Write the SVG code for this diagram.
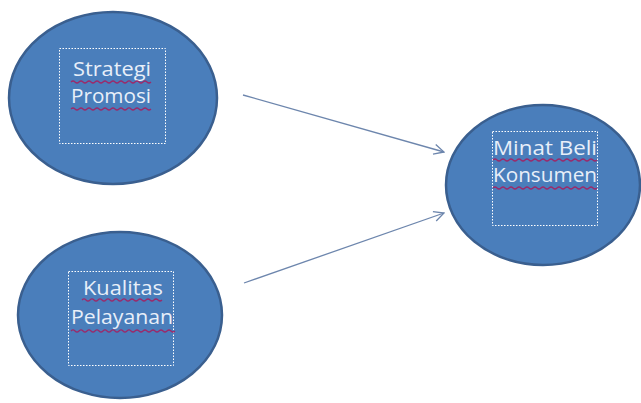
<svg xmlns="http://www.w3.org/2000/svg" width="641" height="403" viewBox="0 0 641 403">
<defs>
<style>
.node{fill:#4a7ebb;stroke:#3a5f8f;stroke-width:2.5}
.box{fill:none;stroke:#ffffff;stroke-width:1;stroke-dasharray:1.5 1.5}
.lbl{font-family:"Open Sans","Liberation Sans",sans-serif;font-size:20px;fill:#e8eff9}
.sq{fill:none;stroke:#9b2a6a;stroke-width:1.2}
.conn{stroke:#6d86ad;stroke-width:1.3;fill:none}
</style>
<marker id="arr" viewBox="0 0 12 12" refX="11" refY="6" markerWidth="12" markerHeight="12" markerUnits="userSpaceOnUse" orient="auto">
<path d="M1,1 L11,6 L1,11" fill="none" stroke="#6d86ad" stroke-width="1.3"/>
</marker>
</defs>
<rect width="641" height="403" fill="#ffffff"/>
<g id="connectors">
<line class="conn" x1="243" y1="95" x2="444" y2="152" marker-end="url(#arr)"/>
<line class="conn" x1="244" y1="283" x2="444" y2="213" marker-end="url(#arr)"/>
</g>
<g id="strategi-promosi">
<ellipse class="node" cx="113" cy="98" rx="104" ry="86"/>
<rect class="box" x="59.5" y="48.5" width="106" height="95"/>
<text class="lbl" x="112" y="76" text-anchor="middle" textLength="78" lengthAdjust="spacingAndGlyphs">Strategi</text>
<text class="lbl" x="111" y="103" text-anchor="middle" textLength="80" lengthAdjust="spacingAndGlyphs">Promosi</text>
<path class="sq" d="M71,82 q2,-2 4,0 t4,0 t4,0 t4,0 t4,0 t4,0 t4,0 t4,0 t4,0 t4,0 t4,0 t4,0 t4,0 t4,0 t4,0 t4,0 t4,0 t4,0 t4,0 t4,0"/>
<path class="sq" d="M71,109 q2,-2 4,0 t4,0 t4,0 t4,0 t4,0 t4,0 t4,0 t4,0 t4,0 t4,0 t4,0 t4,0 t4,0 t4,0 t4,0 t4,0 t4,0 t4,0 t4,0 t4,0"/>
</g>
<g id="kualitas-pelayanan">
<ellipse class="node" cx="120" cy="315" rx="102" ry="83"/>
<rect class="box" x="68.5" y="271.5" width="105" height="94"/>
<text class="lbl" x="123" y="295" text-anchor="middle" textLength="80" lengthAdjust="spacingAndGlyphs">Kualitas</text>
<text class="lbl" x="122" y="324" text-anchor="middle" textLength="102" lengthAdjust="spacingAndGlyphs">Pelayanan</text>
<path class="sq" d="M82,300 q2,-2 4,0 t4,0 t4,0 t4,0 t4,0 t4,0 t4,0 t4,0 t4,0 t4,0 t4,0 t4,0 t4,0 t4,0 t4,0 t4,0 t4,0 t4,0 t4,0 t4,0"/>
<path class="sq" d="M71,331 q2,-2 4,0 t4,0 t4,0 t4,0 t4,0 t4,0 t4,0 t4,0 t4,0 t4,0 t4,0 t4,0 t4,0 t4,0 t4,0 t4,0 t4,0 t4,0 t4,0 t4,0 t4,0 t4,0 t4,0 t4,0 t4,0 t4,0"/>
</g>
<g id="minat-beli-konsumen">
<ellipse class="node" cx="543" cy="185" rx="97" ry="80"/>
<rect class="box" x="492.5" y="131.5" width="105" height="94"/>
<text class="lbl" x="545" y="155" text-anchor="middle" textLength="104" lengthAdjust="spacingAndGlyphs">Minat Beli</text>
<text class="lbl" x="545" y="182" text-anchor="middle" textLength="104" lengthAdjust="spacingAndGlyphs">Konsumen</text>
<path class="sq" d="M493,160 q2,-2 4,0 t4,0 t4,0 t4,0 t4,0 t4,0 t4,0 t4,0 t4,0 t4,0 t4,0 t4,0 t4,0 t4,0 t4,0 t4,0 t4,0 t4,0 t4,0 t4,0 t4,0 t4,0 t4,0 t4,0 t4,0 t4,0"/>
<path class="sq" d="M493,188 q2,-2 4,0 t4,0 t4,0 t4,0 t4,0 t4,0 t4,0 t4,0 t4,0 t4,0 t4,0 t4,0 t4,0 t4,0 t4,0 t4,0 t4,0 t4,0 t4,0 t4,0 t4,0 t4,0 t4,0 t4,0 t4,0 t4,0"/>
</g>
</svg>
